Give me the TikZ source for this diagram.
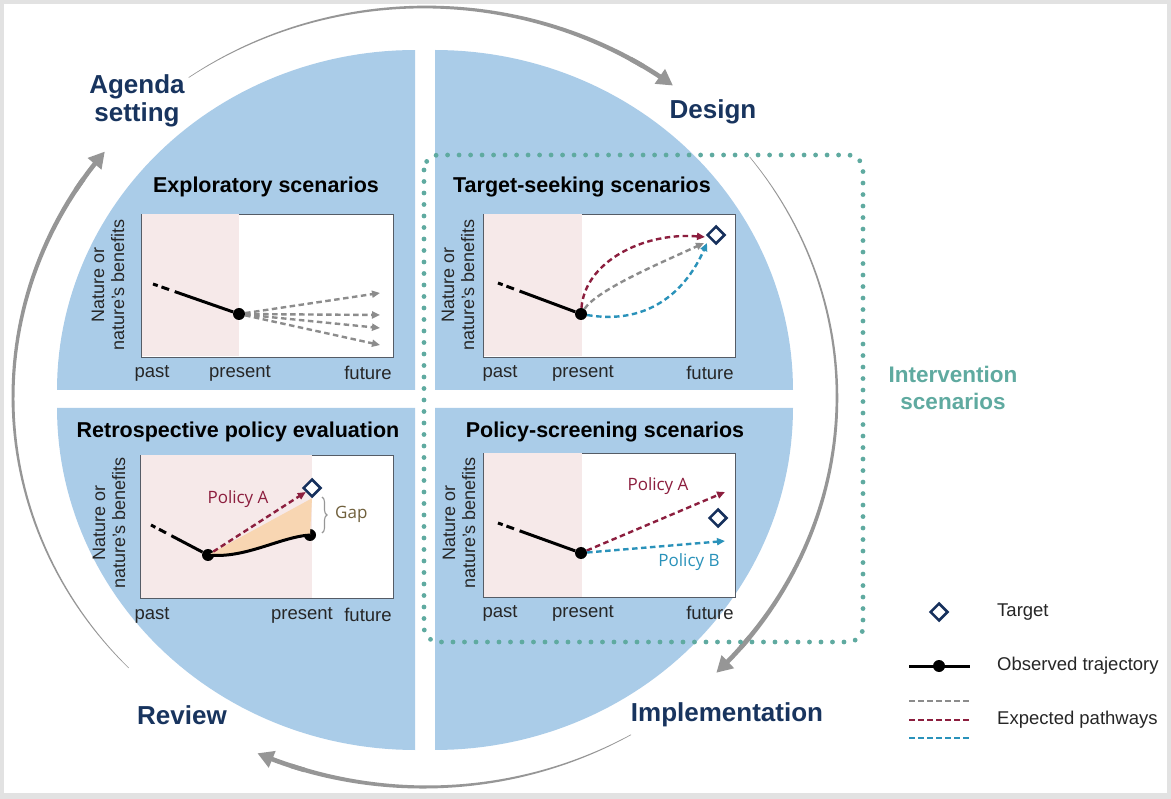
\documentclass[tikz,border=0pt]{standalone}
\usepackage{fontspec}
\setmainfont{Liberation Sans}
\newfontfamily\policyfont{Open Sans}
\usetikzlibrary{arrows.meta,shapes.geometric,decorations.pathreplacing}

\definecolor{framegray}{RGB}{226,226,226}
\definecolor{quadblue}{RGB}{170,204,232}
\definecolor{pastpink}{RGB}{246,233,233}
\definecolor{boxgray}{RGB}{85,92,102}
\definecolor{stagenavy}{RGB}{24,52,94}
\definecolor{tealdot}{RGB}{95,170,160}
\definecolor{cyclegray}{RGB}{150,150,150}
\definecolor{pathgray}{RGB}{140,140,140}
\definecolor{pathred}{RGB}{140,30,62}
\definecolor{pathblue}{RGB}{42,146,186}
\definecolor{gapfill}{RGB}{248,214,178}
\definecolor{gapbrown}{RGB}{112,96,60}
\definecolor{targetnavy}{RGB}{22,48,92}

% tapered arc of the policy cycle, from angle #1 to the arrow tip at angle #2
\newcommand{\cyclearc}[2]{%
  \fill[cyclegray] plot[domain=#1:#2-5, samples=60, variable=\t]
    ({425+(412+0.3+2.2*(\t-(#1))/(#2-(#1)))*cos(\t)},
     {397+(390+0.3+2.2*(\t-(#1))/(#2-(#1)))*sin(\t)})
    -- plot[domain=#2-5:#1, samples=60, variable=\t]
    ({425+(412-0.3-2.2*(\t-(#1))/(#2-(#1)))*cos(\t)},
     {397+(390-0.3-2.2*(\t-(#1))/(#2-(#1)))*sin(\t)}) -- cycle;
  \draw[cyclegray, line width=4.6pt, -{Triangle[length=16pt,width=17pt]}]
    plot[domain=#2-7:#2, samples=8, variable=\t] ({425+412*cos(\t)}, {397+390*sin(\t)});
}

\tikzset{
  chartbox/.style={draw=boxgray, line width=0.9pt, fill=white},
  pastzone/.style={fill=pastpink},
  charttitle/.style={font=\bfseries\fontsize{21.5}{24}\selectfont},
  axislabel/.style={font=\fontsize{18.5}{21}\selectfont, text=black!85},
  ylabel/.style={rotate=90, align=center, font=\fontsize{18}{20}\selectfont, text=black!85},
  stage/.style={font=\bfseries\fontsize{26}{28}\selectfont, text=stagenavy, align=center},
  obsline/.style={line width=3pt, black},
  observed/.style={obsline, dash pattern=on 5pt off 4pt on 8pt off 6pt on 300pt off 0pt},
  obsdot/.style={circle, fill=black, inner sep=0pt, minimum size=12pt},
  targetmark/.style={diamond, draw=targetnavy, line width=2.5pt, fill=white, inner sep=0pt, minimum size=18pt},
  pathway/.style={line width=2.4pt, dash pattern=on 5.5pt off 3.5pt, -{Triangle[length=8pt,width=7pt]}},
  graypath/.style={pathway, draw=pathgray, color=pathgray},
  redpath/.style={pathway, draw=pathred, color=pathred},
  bluepath/.style={pathway, draw=pathblue, color=pathblue},
  policylabel/.style={font=\policyfont\fontsize{17}{20}\selectfont},
  legendtext/.style={anchor=west, inner sep=0pt, font=\fontsize{18.5}{21}\selectfont, text=black!85},
  interventionbox/.style={draw=tealdot, line width=4.8pt, line cap=round, dash pattern=on 0pt off 11.5pt, rounded corners=15pt},
}

\begin{document}
\begin{tikzpicture}[x=1pt, y=-1pt]
\useasboundingbox (0,0) rectangle (1171,799);
\fill[framegray] (0,0) rectangle (1171,799);
\fill[white] (4,4) rectangle (1167,793);

% four quadrants
\fill[quadblue] (415,390) -- plot[domain=180:270, samples=60] ({415+358*cos(\x)}, {390+340*sin(\x)}) -- cycle;
\fill[quadblue] (435,390) -- plot[domain=270:360, samples=60] ({435+358*cos(\x)}, {390+340*sin(\x)}) -- cycle;
\fill[quadblue] (415,408) -- plot[domain=90:180, samples=60] ({415+358*cos(\x)}, {408+342*sin(\x)}) -- cycle;
\fill[quadblue] (435,408) -- plot[domain=0:90, samples=60] ({435+358*cos(\x)}, {408+342*sin(\x)}) -- cycle;

% policy cycle
\cyclearc{-125}{-53}
\cyclearc{-38}{45}
\cyclearc{60}{114}
\cyclearc{136}{219}

\node[stage] (agenda) at (137,101) {Agenda\\setting};
\node[stage] (design) at (713,112) {Design};
\node[stage] (review) at (182,715) {Review};
\node[stage] (implementation) at (727,715) {Implementation};

% intervention scenarios
\draw[interventionbox] (424,155) rectangle (863,642);
\node[font=\bfseries\fontsize{22.5}{27}\selectfont, text=tealdot, align=center] (intervention) at (953,388) {Intervention\\scenarios};

% exploratory
\begin{scope}[shift={(141,214)}]
  \draw[chartbox] (0,0) rectangle (252,143);
  \fill[pastzone] (0.5,0.5) rectangle (98,142.5);
  \node[charttitle] (tl-title) at (125,-27) {Exploratory scenarios};
  \node[ylabel] (tl-ylabel) at (-33,71) {Nature or\\nature's benefits};
  \node[axislabel] (tl-past) at (11,159) {past};
  \node[axislabel] (tl-present) at (99,159) {present};
  \node[axislabel] (tl-future) at (227,159) {future};
  \coordinate (tl-start) at (12,70);
  \node[obsdot] (tl-now) at (98,100) {};
  \draw[observed] (tl-start) -- (tl-now);
  \foreach \y [count=\i] in {79,101,114,131} {
    \coordinate (tl-end\i) at (239,\y);
    \draw[graypath] (tl-now) -- (tl-end\i);
  }
\end{scope}

% target-seeking
\begin{scope}[shift={(483,214)}]
  \draw[chartbox] (0,0) rectangle (252,143);
  \fill[pastzone] (0.5,0.5) rectangle (99,142.5);
  \node[charttitle] (tr-title) at (99,-27) {Target-seeking scenarios};
  \node[ylabel] (tr-ylabel) at (-25,71) {Nature or\\nature's benefits};
  \node[axislabel] (tr-past) at (17,159) {past};
  \node[axislabel] (tr-present) at (100,159) {present};
  \node[axislabel] (tr-future) at (227,159) {future};
  \coordinate (tr-start) at (15,69);
  \node[obsdot] (tr-now) at (98,100) {};
  \draw[observed] (tr-start) -- (tr-now);
  \node[targetmark] (tr-target) at (233,21) {};
  \coordinate (tr-end-red) at (222,23);
  \coordinate (tr-end-gray) at (221,29);
  \coordinate (tr-end-blue) at (224,29);
  \draw[graypath] (tr-now) .. controls (115,75) and (180,48) .. (tr-end-gray);
  \draw[redpath] (tr-now) .. controls (102,48) and (160,18) .. (tr-end-red);
  \draw[bluepath] (tr-now) .. controls (170,112) and (205,72) .. (tr-end-blue);
\end{scope}

% retrospective
\begin{scope}[shift={(140,455)}]
  \draw[chartbox] (0,0) rectangle (253,143);
  \fill[pastzone] (0.5,0.5) rectangle (172,142.5);
  \node[charttitle] (bl-title) at (98,-23) {Retrospective policy evaluation};
  \node[ylabel] (bl-ylabel) at (-31,68) {Nature or\\nature's benefits};
  \node[axislabel] (bl-past) at (12,160) {past};
  \node[axislabel] (bl-present) at (162,160) {present};
  \node[axislabel] (bl-future) at (228,160) {future};
  \coordinate (bl-start) at (11,70);
  \node[obsdot] (bl-p0) at (68,100) {};
  \node[obsdot] (bl-p1) at (170,80) {};
  \node[targetmark] (bl-target) at (172,33) {};
  \fill[gapfill] (bl-p0.center) -- (bl-target.south) -- (bl-p1.center)
    .. controls (140,82) and (105,104) .. (bl-p0.center) -- cycle;
  \draw[observed] (bl-start) -- (bl-p0);
  \draw[obsline] (bl-p0.center) .. controls (105,104) and (140,82) .. (bl-p1.center);
  \draw[redpath] (bl-p0) -- (bl-target);
  \node[policylabel, text=pathred] (bl-policy-a) at (98,44) {Policy A};
  \draw[cyclegray, line width=1.1pt, decorate, decoration={brace, amplitude=5pt}]
    (182,42) -- (182,78);
  \node[policylabel, text=gapbrown, anchor=west, inner sep=0pt] (bl-gap) at (195,59) {Gap};
\end{scope}

% policy-screening
\begin{scope}[shift={(483,453)}]
  \draw[chartbox] (0,0) rectangle (252,144);
  \fill[pastzone] (0.5,0.5) rectangle (99,143.5);
  \node[charttitle] (br-title) at (122,-21) {Policy-screening scenarios};
  \node[ylabel] (br-ylabel) at (-24,70) {Nature or\\nature's benefits};
  \node[axislabel] (br-past) at (17,160) {past};
  \node[axislabel] (br-present) at (100,160) {present};
  \node[axislabel] (br-future) at (227,160) {future};
  \coordinate (br-start) at (15,70);
  \node[obsdot] (br-now) at (98,100) {};
  \draw[observed] (br-start) -- (br-now);
  \node[targetmark] (br-target) at (235,65) {};
  \coordinate (br-end-a) at (242,39);
  \coordinate (br-end-b) at (242,88);
  \draw[redpath] (br-now) -- (br-end-a);
  \draw[bluepath] (br-now) -- (br-end-b);
  \node[policylabel, text=pathred] (br-policy-a) at (175,33) {Policy A};
  \node[policylabel, text=pathblue] (br-policy-b) at (206,109) {Policy B};
\end{scope}

% legend
\node[targetmark] (leg-target) at (939,612) {};
\node[legendtext] (leg-target-text) at (997,612) {Target};
\coordinate (leg-obs-a) at (909,666);
\coordinate (leg-obs-b) at (970,666);
\draw[obsline] (leg-obs-a) -- (leg-obs-b);
\node[obsdot] (leg-obs-dot) at (939,666) {};
\node[legendtext] (leg-obs-text) at (997,666) {Observed trajectory};
\coordinate (leg-gray-a) at (909,701);
\coordinate (leg-gray-b) at (970,701);
\coordinate (leg-red-a) at (909,720);
\coordinate (leg-red-b) at (970,720);
\coordinate (leg-blue-a) at (909,738);
\coordinate (leg-blue-b) at (970,738);
\draw[graypath, -] (leg-gray-a) -- (leg-gray-b);
\draw[redpath, -] (leg-red-a) -- (leg-red-b);
\draw[bluepath, -] (leg-blue-a) -- (leg-blue-b);
\node[legendtext] (leg-path-text) at (997,720) {Expected pathways};
\end{tikzpicture}
\end{document}
